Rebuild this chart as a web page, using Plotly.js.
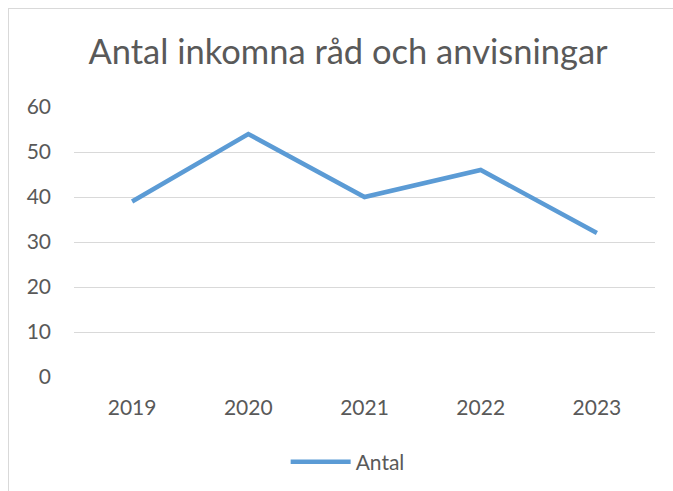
<!DOCTYPE html>
<html>
<head>
<meta charset="utf-8">
<script src="https://cdn.plot.ly/plotly-3.0.1.min.js"></script>
<style>
  body { margin: 0; background: #fff; }
  #frame { position: absolute; left: 8px; top: 8px; width: 720px; height: 520px; border: 1px solid #d9d9d9; }
  #chart { position: absolute; left: 0; top: 0; width: 673px; height: 491px; }
</style>
</head>
<body>
<div id="frame"></div>
<div id="chart"></div>
<script>
// Antal inkomna råd och anvisningar per år
const years  = ['2019', '2020', '2021', '2022', '2023'];
const antal  = [39, 54, 40, 46, 32];
const yTicks = [0, 10, 20, 30, 40, 50, 60];

const textColor = '#595959';
const fontFam = 'Lato, "Open Sans", sans-serif';

Plotly.newPlot('chart', [
  { x: years, y: antal, type: 'scatter', mode: 'lines', name: 'Antal',
    line: { color: '#5B9BD5', width: 4.5 } }
], {
  width: 673, height: 491,
  paper_bgcolor: 'rgba(0,0,0,0)', plot_bgcolor: 'rgba(0,0,0,0)',
  margin: { l: 74, r: 18, t: 107, b: 114, autoexpand: false },
  font: { family: fontFam, color: textColor, size: 21 },
  title: { text: 'Antal inkomna råd och anvisningar', font: { size: 34.5, color: textColor },
    x: 348 / 673, xanchor: 'center', y: 1 - 52 / 491, yanchor: 'middle' },
  xaxis: { type: 'category', range: [-0.5, 4.5], showgrid: false, zeroline: false,
    showline: false, ticks: '', ticklabelstandoff: 16, tickfont: { size: 21 } },
  yaxis: { range: [0, 60], tickvals: yTicks, showgrid: true, gridcolor: '#d9d9d9',
    gridwidth: 1, zeroline: false, showline: false, ticks: '',
    ticklabelstandoff: 22, tickfont: { size: 21 } },
  showlegend: true,
  legend: { orientation: 'h', x: 0.471, xanchor: 'center',
    y: -0.315, yanchor: 'middle', itemwidth: 60, font: { size: 21 } }
}, { displayModeBar: false });
</script>
</body>
</html>
